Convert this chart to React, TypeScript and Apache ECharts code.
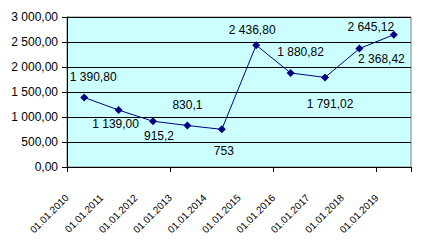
import React, { useEffect, useRef } from "react";
import * as echarts from "echarts";

const categories = [
  "01.01.2010", "01.01.2011", "01.01.2012", "01.01.2013", "01.01.2014",
  "01.01.2015", "01.01.2016", "01.01.2017", "01.01.2018", "01.01.2019",
];
const values = [1390.8, 1139.0, 915.2, 830.1, 753, 2436.8, 1880.82, 1791.02, 2368.42, 2645.12];
const valueLabels = [
  "1 390,80", "1 139,00", "915,2", "830,1", "753",
  "2 436,80", "1 880,82", "1 791,02", "2 368,42", "2 645,12",
];
// label offsets (style only)
const labelOffsets: [number, number][] = [
  [9, -20], [-3, 14], [6, 15], [0, -20], [2, 22],
  [-4, -15], [10, -21], [5, 27], [22, 10], [-23, -8],
];

const FONT = "'Liberation Sans', Arial, sans-serif";

function fmtAxis(v: number): string {
  const fixed = v.toFixed(2);
  const [intPart, dec] = fixed.split(".");
  const withSpaces = intPart.replace(/\B(?=(\d{3})+(?!\d))/g, " ");
  return withSpaces + "," + dec;
}

export default function App() {
  const ref = useRef<HTMLDivElement>(null);
  useEffect(() => {
    if (!ref.current) return;
    const chart = echarts.init(ref.current, undefined, { renderer: "svg" });
    chart.setOption({
      animation: false,
      textStyle: { fontFamily: FONT },
      grid: {
        left: 67, right: 10, top: 17, bottom: 79,
        show: true, backgroundColor: "#CCFFFF", borderColor: "#808080", borderWidth: 1,
      },
      xAxis: [
        {
          type: "category",
          data: categories,
          boundaryGap: true,
          axisLine: { lineStyle: { color: "#000", width: 1 } },
          axisTick: { show: true, length: 5, lineStyle: { color: "#000" } },
          axisLabel: { show: false },
          splitLine: { show: false },
        },
        {
          type: "category",
          data: [...categories, ""],
          boundaryGap: false,
          position: "bottom",
          axisLine: { show: false },
          axisTick: { show: false },
          axisLabel: {
            show: true, interval: 0, rotate: 45, margin: 29,
            fontSize: 10, color: "#000", fontFamily: FONT,
          },
          splitLine: { show: false },
        },
      ],
      yAxis: {
        type: "value",
        min: 0, max: 3000, interval: 500,
        axisLine: { show: true, lineStyle: { color: "#000", width: 1 } },
        axisTick: { show: true, length: 5, lineStyle: { color: "#000" } },
        axisLabel: {
          color: "#000", fontSize: 12, margin: 9, fontFamily: FONT,
          formatter: (v: number) => fmtAxis(v),
        },
        splitLine: { show: true, lineStyle: { color: "#000", width: 1 } },
      },
      series: [
        {
          type: "line",
          xAxisIndex: 0,
          data: values.map((v, i) => ({
            value: v,
            label: { offset: labelOffsets[i] },
          })),
          symbol: "diamond",
          symbolSize: 8,
          lineStyle: { color: "#000080", width: 1 },
          itemStyle: { color: "#000080" },
          label: {
            show: true,
            position: "inside",
            color: "#000",
            fontSize: 12,
            fontFamily: FONT,
            formatter: (p: any) => valueLabels[p.dataIndex],
          },
        },
      ],
    });
    return () => chart.dispose();
  }, []);
  return (
    <div
      ref={ref}
      style={{ position: "absolute", left: 0, top: 0, width: 421, height: 246 }}
    />
  );
}
